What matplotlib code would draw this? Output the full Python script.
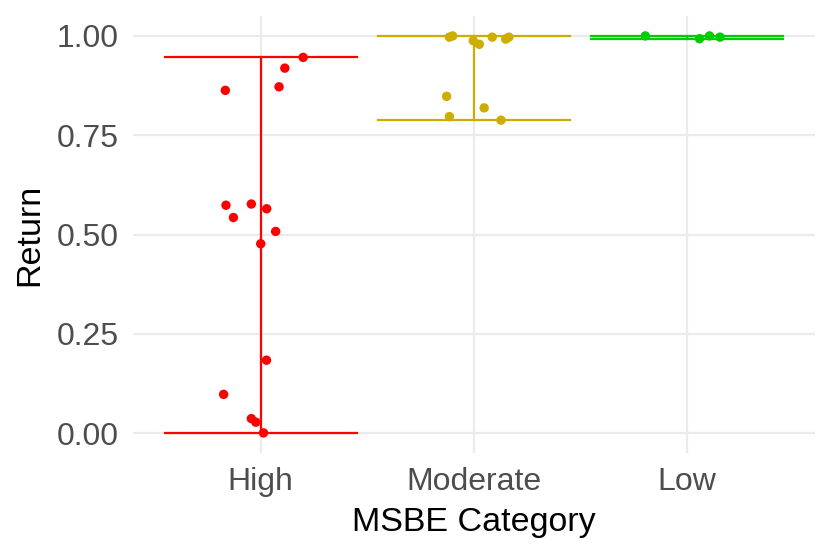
import numpy as np
import matplotlib.pyplot as plt

plt.rcParams['font.family'] = ['Liberation Sans', 'DejaVu Sans']

categories = ['High', 'Moderate', 'Low']
colors = ['#FF0000', '#CDAD00', '#00CD00']

# jittered x offsets and returns per category
high_jit = [0.199, 0.113, 0.086, -0.166, -0.163, -0.044, 0.028, -0.128, 0.070, 0.0,
            0.027, -0.174, -0.044, -0.023, 0.013]
high_ret = [0.946, 0.919, 0.872, 0.863, 0.574, 0.577, 0.565, 0.543, 0.508, 0.477,
            0.184, 0.098, 0.037, 0.028, 0.001]
mod_jit = [-0.115, -0.100, -0.003, 0.025, 0.086, 0.149, 0.164, -0.128, 0.048, -0.115, 0.127]
mod_ret = [0.997, 1.0, 0.988, 0.979, 0.997, 0.992, 0.997, 0.848, 0.819, 0.797, 0.788]
low_jit = [-0.196, 0.058, 0.105, 0.154]
low_ret = [1.0, 0.993, 1.0, 0.997]

jitters = [high_jit, mod_jit, low_jit]
returns = [high_ret, mod_ret, low_ret]

fig = plt.figure(figsize=(8.3, 5.54), dpi=100)
ax = fig.add_axes([0.160, 0.182, 0.822, 0.789])

for i, (jit, ret, col) in enumerate(zip(jitters, returns, colors)):
    ret = np.array(ret)
    lo, hi = 0.0 if i == 0 else ret.min(), ret.max()
    ax.plot([i - 0.45, i + 0.45], [lo, lo], color=col, lw=1.6, zorder=3)
    ax.plot([i - 0.45, i + 0.45], [hi, hi], color=col, lw=1.6, zorder=3)
    ax.plot([i, i], [lo, hi], color=col, lw=1.6, zorder=3)
    ax.scatter(i + np.array(jit), ret, s=46, color=col, edgecolors='none', zorder=4)

ax.set_xlim(-0.6, 2.6)
ax.set_ylim(-0.05, 1.05)
ax.set_xticks(range(3))
ax.set_xticklabels(categories)
ax.set_yticks([0, 0.25, 0.5, 0.75, 1.0])
ax.set_yticklabels(['0.00', '0.25', '0.50', '0.75', '1.00'])
ax.grid(True, color='#EBEBEB', lw=1.6, zorder=0)
ax.set_axisbelow(True)
for s in ax.spines.values():
    s.set_visible(False)
ax.tick_params(length=0, labelsize=23, labelcolor='#4D4D4D')
ax.tick_params(axis='y', pad=10)
ax.tick_params(axis='x', pad=10)
ax.set_xlabel('MSBE Category', fontsize=24.5, labelpad=7)
ax.set_ylabel('Return', fontsize=24.5, labelpad=8)

fig.savefig('out.png', dpi=100)
